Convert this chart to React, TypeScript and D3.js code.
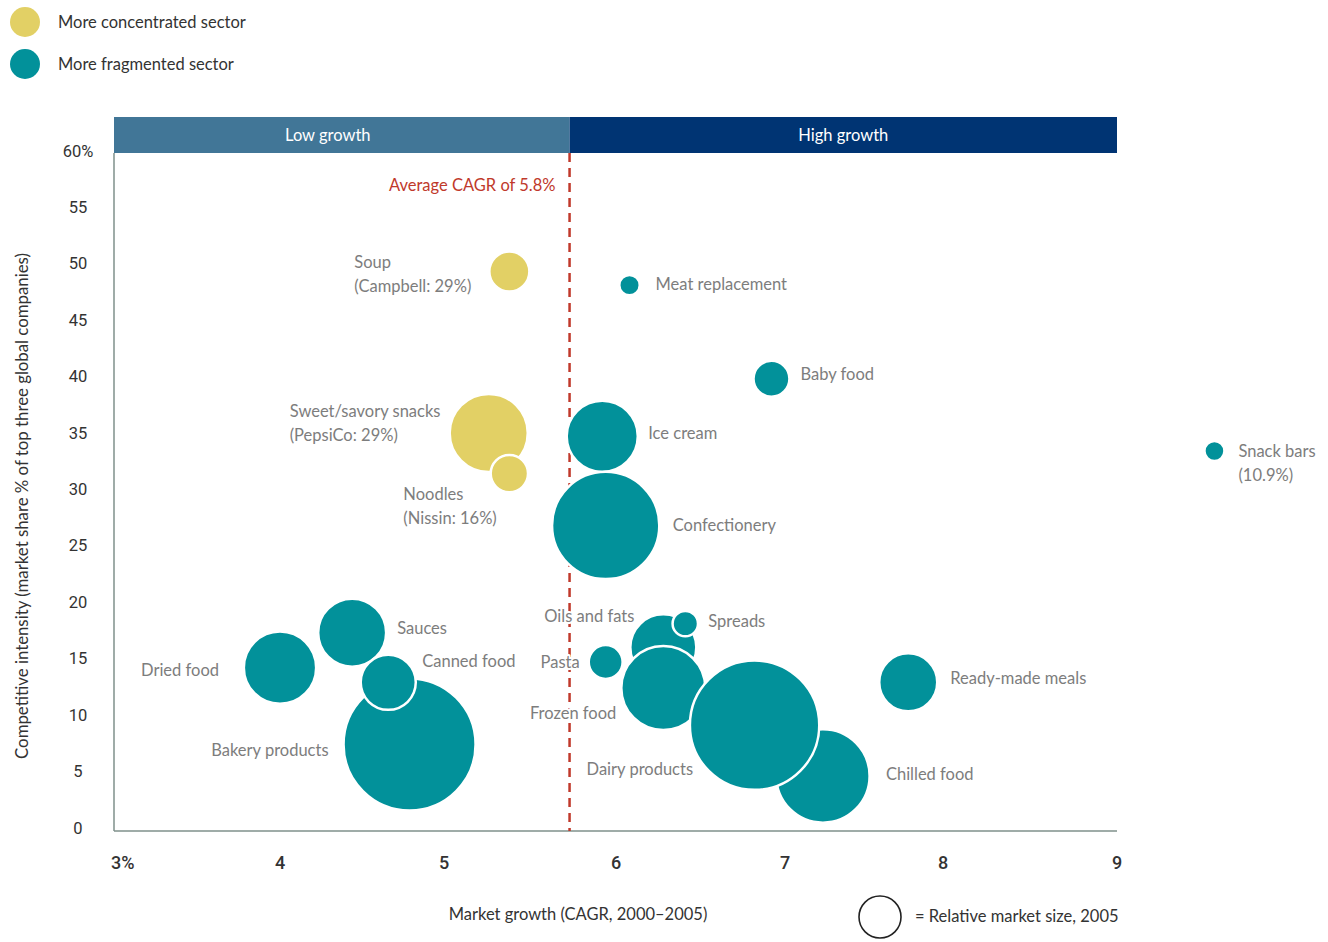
import React from "react";
import * as d3 from "d3";

// ---------- Data ----------
const sectors = [
  "Soup", "Sweet/savory snacks", "Noodles", "Meat replacement", "Baby food",
  "Ice cream", "Confectionery", "Snack bars", "Dried food", "Sauces",
  "Bakery products", "Canned food", "Oils and fats", "Spreads", "Pasta",
  "Frozen food", "Chilled food", "Dairy products", "Ready-made meals",
];
const labelLines = [
  ["Soup", "(Campbell: 29%)"], ["Sweet/savory snacks", "(PepsiCo: 29%)"], ["Noodles", "(Nissin: 16%)"],
  ["Meat replacement"], ["Baby food"], ["Ice cream"], ["Confectionery"], ["Snack bars", "(10.9%)"],
  ["Dried food"], ["Sauces"], ["Bakery products"], ["Canned food"], ["Oils and fats"], ["Spreads"],
  ["Pasta"], ["Frozen food"], ["Chilled food"], ["Dairy products"], ["Ready-made meals"],
];
// market growth CAGR 2000-2005 (%)
const growth = [5.38, 5.26, 5.38, 6.08, 6.92, 5.92, 5.94, 9.56, 4.0, 4.44, 4.79, 4.66, 6.28, 6.41, 5.94, 6.28, 7.24, 6.82, 7.78];
// competitive intensity (market share % of top three)
const intensity = [49.4, 35.1, 31.5, 48.2, 39.9, 34.8, 26.9, 33.5, 14.3, 17.4, 7.5, 13.0, 16.1, 18.2, 14.8, 12.5, 4.7, 9.2, 13.0];
// relative market size, 2005
const marketSize = [9.2, 35, 8, 2.4, 7.4, 29, 66, 2.3, 30, 26.5, 100, 17.4, 25, 3.7, 6.6, 40.5, 50, 96, 19.3];
// concentration type
const concentration = ["c", "c", "c", "f", "f", "f", "f", "f", "f", "f", "f", "f", "f", "f", "f", "f", "f", "f", "f"];

const xTicks = [3, 4, 5, 6, 7, 8, 9];
const xTickLabels = ["3%", "4", "5", "6", "7", "8", "9"];
const yTicks = [0, 5, 10, 15, 20, 25, 30, 35, 40, 45, 50, 55, 60];
const yTickLabels = ["0", "5", "10", "15", "20", "25", "30", "35", "40", "45", "50", "55", "60%"];
const averageCagrLabel = "Average CAGR of 5.8%";
const averageCagrPos = 5.73;
const legendItems = ["More concentrated sector", "More fragmented sector"];

// ---------- Layout / style ----------
const W = 1328, H = 942;
const plotL = 114, plotR = 1117, plotT = 153, plotB = 831;
const COLORS: Record<string, string> = { c: "#e2d065", f: "#02919a" };
const labelFont = "Lato, 'Noto Sans', sans-serif";
const numFont = "Roboto, 'Liberation Sans', Arial, sans-serif";

// label layout: dx from bubble center, dy of first line from bubble center, anchor
const labelLayout: Record<string, { dx: number; dy: number; anchor: string }> = {
  "Soup": { dx: -155, dy: -10, anchor: "start" },
  "Sweet/savory snacks": { dx: -199, dy: -22, anchor: "start" },
  "Noodles": { dx: -106, dy: 20, anchor: "start" },
  "Meat replacement": { dx: 26, dy: -1, anchor: "start" },
  "Baby food": { dx: 29, dy: -5, anchor: "start" },
  "Ice cream": { dx: 46, dy: -3, anchor: "start" },
  "Confectionery": { dx: 67, dy: 0, anchor: "start" },
  "Snack bars": { dx: 24, dy: 0, anchor: "start" },
  "Dried food": { dx: -61, dy: 2, anchor: "end" },
  "Sauces": { dx: 45, dy: -5, anchor: "start" },
  "Bakery products": { dx: -81, dy: 6, anchor: "end" },
  "Canned food": { dx: 34, dy: -21, anchor: "start" },
  "Oils and fats": { dx: -29, dy: -31, anchor: "end" },
  "Spreads": { dx: 23, dy: -3, anchor: "start" },
  "Pasta": { dx: -26, dy: 0, anchor: "end" },
  "Frozen food": { dx: -47, dy: 25, anchor: "end" },
  "Chilled food": { dx: 63, dy: -2, anchor: "start" },
  "Dairy products": { dx: -168, dy: 44, anchor: "start" },
  "Ready-made meals": { dx: 42, dy: -4, anchor: "start" },
};

export default function App() {
  const x = d3.scaleLinear().domain(xTicks).range([114, 280, 444, 616, 785, 943, 1117]);
  const y = d3.scaleLinear().domain([0, 60]).range([829, 152]);
  const r = d3.scaleSqrt().domain([0, 100]).range([0, 66]);
  const avgX = x(averageCagrPos);

  const bubbles = sectors.map((name, i) => ({
    name, lines: labelLines[i], cx: x(growth[i]), cy: y(intensity[i]), rad: r(marketSize[i]), color: COLORS[concentration[i]],
  }));

  return (
    <svg width={W} height={H} style={{ position: "absolute", left: 0, top: 0, display: "block" }}>
      <rect x={0} y={0} width={W} height={H} fill="#fff" />
      {/* top legend */}
      {legendItems.map((t, i) => (
        <g key={t}>
          <circle cx={25} cy={22 + i * 42} r={15} fill={i === 0 ? COLORS.c : COLORS.f} />
          <text x={58} y={22 + i * 42} dominantBaseline="central" fontFamily={labelFont} fontSize={16.5} fill="#333">{t}</text>
        </g>
      ))}

      {/* header bands */}
      <rect x={plotL} y={117} width={avgX - plotL} height={36} fill="#417697" />
      <rect x={avgX} y={117} width={plotR - avgX} height={36} fill="#003473" />
      <text x={(plotL + avgX) / 2 - 14} y={135} textAnchor="middle" dominantBaseline="central" fontFamily={labelFont} fontSize={16.5} fill="#fff">Low growth</text>
      <text x={(avgX + plotR) / 2} y={135} textAnchor="middle" dominantBaseline="central" fontFamily={labelFont} fontSize={16.5} fill="#fff">High growth</text>

      {/* axes */}
      <line x1={plotL} x2={plotL} y1={plotT} y2={plotB} stroke="#7f918b" strokeWidth={1.5} />
      <line x1={plotL} x2={plotR} y1={plotB} y2={plotB} stroke="#7f918b" strokeWidth={1.5} />

      {yTicks.map((v, i) => (
        <text key={v} x={78} y={y(v) - 1} textAnchor="middle" dominantBaseline="central" fontFamily={numFont} fontSize={16.5} fill="#333">{yTickLabels[i]}</text>
      ))}
      {xTicks.map((v, i) => (
        <text key={v} x={i === 0 ? x(v) - 3 : x(v)} y={862} textAnchor={i === 0 ? "start" : "middle"} dominantBaseline="central" fontFamily={numFont} fontWeight={500} fontSize={18} fill="#333">{xTickLabels[i]}</text>
      ))}

      <text transform={`translate(21,506) rotate(-90)`} textAnchor="middle" dominantBaseline="central" fontFamily={labelFont} fontSize={16.8} fill="#333">Competitive intensity (market share % of top three global companies)</text>
      <text x={578} y={914} textAnchor="middle" dominantBaseline="central" fontFamily={labelFont} fontSize={16.5} fill="#333">Market growth (CAGR, 2000–2005)</text>

      {/* average line */}
      <line x1={avgX} x2={avgX} y1={plotT} y2={plotB} stroke="#c0392b" strokeWidth={2.5} strokeDasharray="9,6" />
      <text x={avgX - 14} y={185} textAnchor="end" dominantBaseline="central" fontFamily={labelFont} fontSize={16.5} fill="#c0392b">{averageCagrLabel}</text>

      {/* bubbles */}
      {bubbles.map((b) => (
        <circle key={b.name} cx={b.cx} cy={b.cy} r={b.rad} fill={b.color} stroke="#fff" strokeWidth={2.5} />
      ))}

      {/* labels */}
      {bubbles.map((b) => {
        const L = labelLayout[b.name];
        return (
          <text key={b.name + "-l"} x={b.cx + L.dx} y={b.cy + L.dy} textAnchor={L.anchor} dominantBaseline="central" fontFamily={labelFont} fontSize={16.5} fill="#7d7d7d" stroke="#fff" strokeWidth={4} strokeLinejoin="round" style={{ paintOrder: "stroke" }}>
            {b.lines.map((ln, k) => (
              <tspan key={k} x={b.cx + L.dx} dy={k === 0 ? 0 : 24}>{ln}</tspan>
            ))}
          </text>
        );
      })}

      {/* size legend */}
      <circle cx={880} cy={917} r={21} fill="#fff" stroke="#222" strokeWidth={1.6} />
      <text x={915} y={916} dominantBaseline="central" fontFamily={labelFont} fontSize={16.5} fill="#333">= Relative market size, 2005</text>
    </svg>
  );
}
